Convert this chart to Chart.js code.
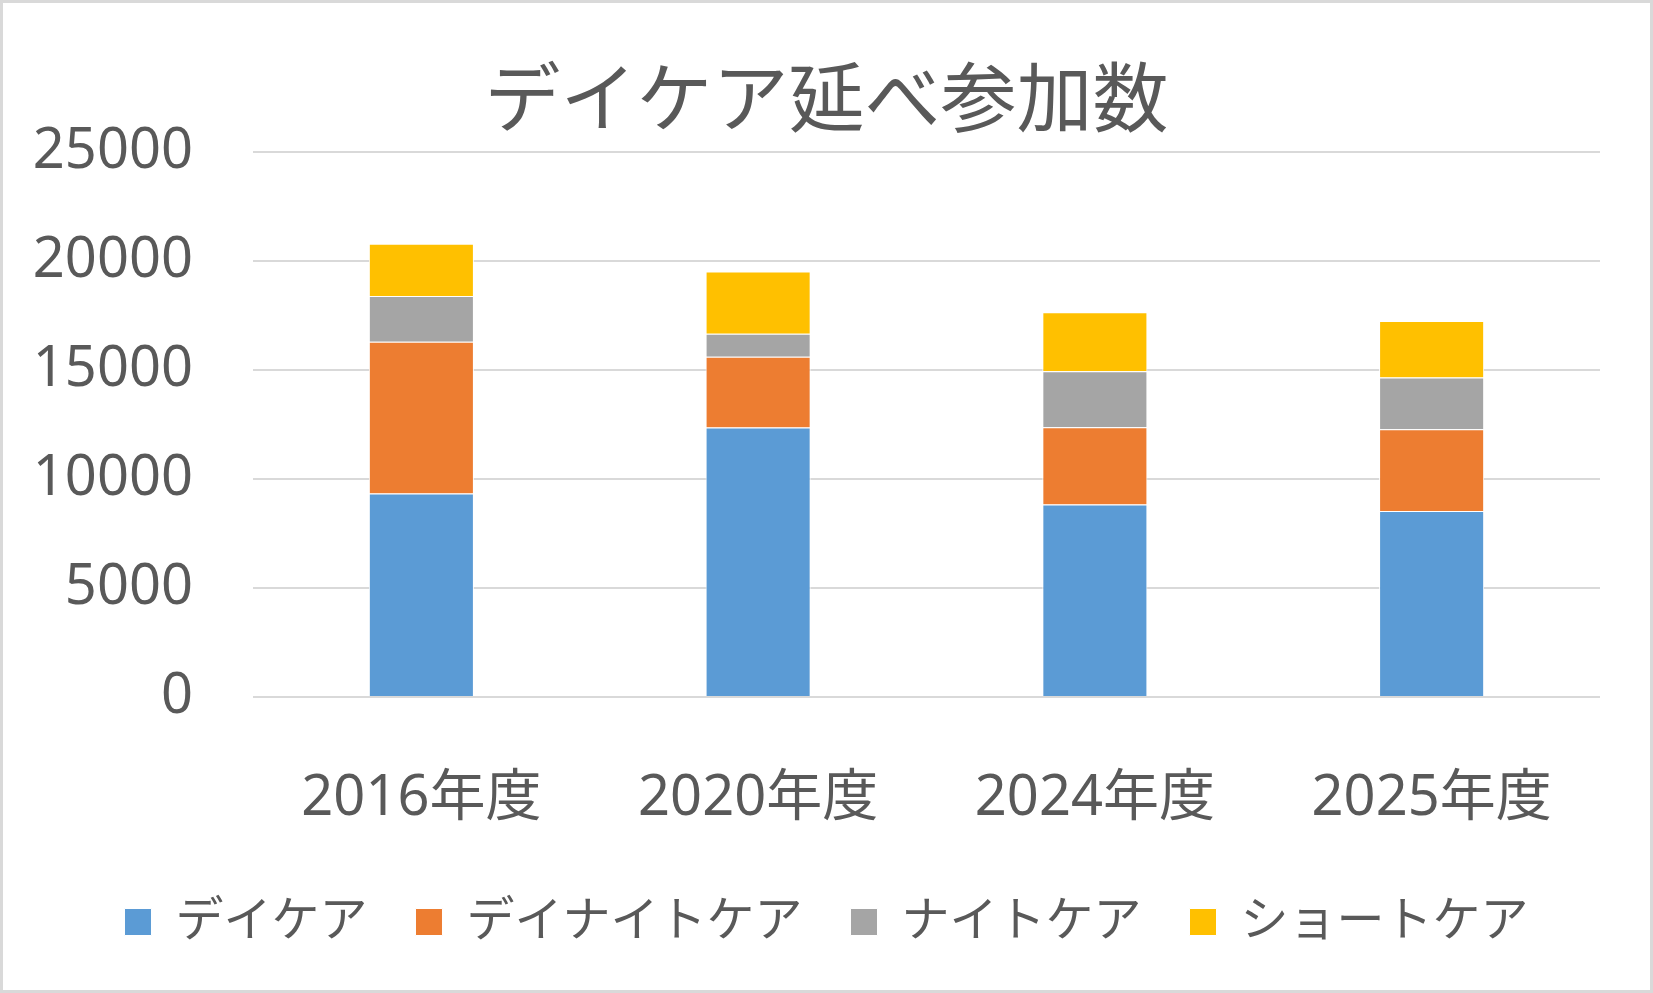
<!DOCTYPE html>
<html>
<head>
<meta charset="utf-8">
<script src="https://cdn.jsdelivr.net/npm/chart.js@4"></script>
<style>
    html, body { margin: 0; padding: 0; background: #ffffff; }
    #wrap {
        width: 1653px;
        height: 993px;
        border: 3px solid #d9d9d9;
        box-sizing: border-box;
        background: #ffffff;
    }
    canvas { display: block; }
</style>
</head>
<body>
<div id="wrap">
    <canvas id="care-chart" width="1647" height="987"></canvas>
</div>
<script>
const years = ['2016年度', '2020年度', '2024年度', '2025年度'];
const dayCare = [9340, 12370, 8830, 8530];
const dayNightCare = [6960, 3240, 3550, 3760];
const nightCare = [2100, 1060, 2570, 2370];
const shortCare = [2400, 2860, 2700, 2590];
const yTicks = [0, 5000, 10000, 15000, 20000, 25000];

const textColor = '#595959';
const fontFamily = '"Noto Sans", "Noto Sans CJK JP", sans-serif';

function makeDataset(label, data, color) {
    return {
        label: label,
        data: data,
        backgroundColor: color,
        borderColor: '#ffffff',
        borderWidth: 1,
        barPercentage: 0.312,
        categoryPercentage: 1.0
    };
}

document.addEventListener('DOMContentLoaded', function() {
    const ctx = document.getElementById('care-chart').getContext('2d');
    new Chart(ctx, {
        type: 'bar',
        data: {
            labels: years,
            datasets: [
                makeDataset('デイケア', dayCare, '#5B9BD5'),
                makeDataset('デイナイトケア', dayNightCare, '#ED7D31'),
                makeDataset('ナイトケア', nightCare, '#A5A5A5'),
                makeDataset('ショートケア', shortCare, '#FFC000')
            ]
        },
        options: {
            responsive: false,
            animation: false,
            layout: {
                padding: { left: 0, right: 0, top: 0, bottom: 34 }
            },
            scales: {
                x: {
                    stacked: true,
                    grid: { display: false, drawTicks: false },
                    border: { display: false },
                    ticks: {
                        color: textColor,
                        padding: 68,
                        font: { family: fontFamily, size: 56 }
                    },
                    afterFit: function(scale) {
                        scale.height = 153;
                    }
                },
                y: {
                    stacked: true,
                    min: yTicks[0],
                    max: yTicks[yTicks.length - 1],
                    afterBuildTicks: function(scale) {
                        scale.ticks = yTicks.map(v => ({ value: v }));
                    },
                    grid: { color: '#d9d9d9', lineWidth: 2, drawTicks: false },
                    border: { display: false },
                    ticks: {
                        color: textColor,
                        padding: 60,
                        font: { family: fontFamily, size: 56 },
                        callback: function(value) {
                            return String(value);
                        }
                    },
                    afterFit: function(scale) {
                        scale.width = 250;
                    }
                },
                // empty axis on the right, only to keep the right margin
                yRight: {
                    position: 'right',
                    grid: { display: false, drawTicks: false },
                    border: { display: false },
                    ticks: { display: false },
                    afterFit: function(scale) {
                        scale.width = 50;
                    }
                }
            },
            plugins: {
                title: {
                    display: true,
                    text: 'デイケア延べ参加数',
                    color: textColor,
                    font: { family: fontFamily, size: 76, weight: 'normal' },
                    padding: { top: 56, bottom: 2 }
                },
                legend: {
                    position: 'bottom',
                    labels: {
                        color: textColor,
                        boxWidth: 27,
                        boxHeight: 27,
                        padding: 48,
                        font: { family: fontFamily, size: 48 }
                    }
                },
                tooltip: { enabled: false }
            }
        }
    });
});
</script>
</body>
</html>
